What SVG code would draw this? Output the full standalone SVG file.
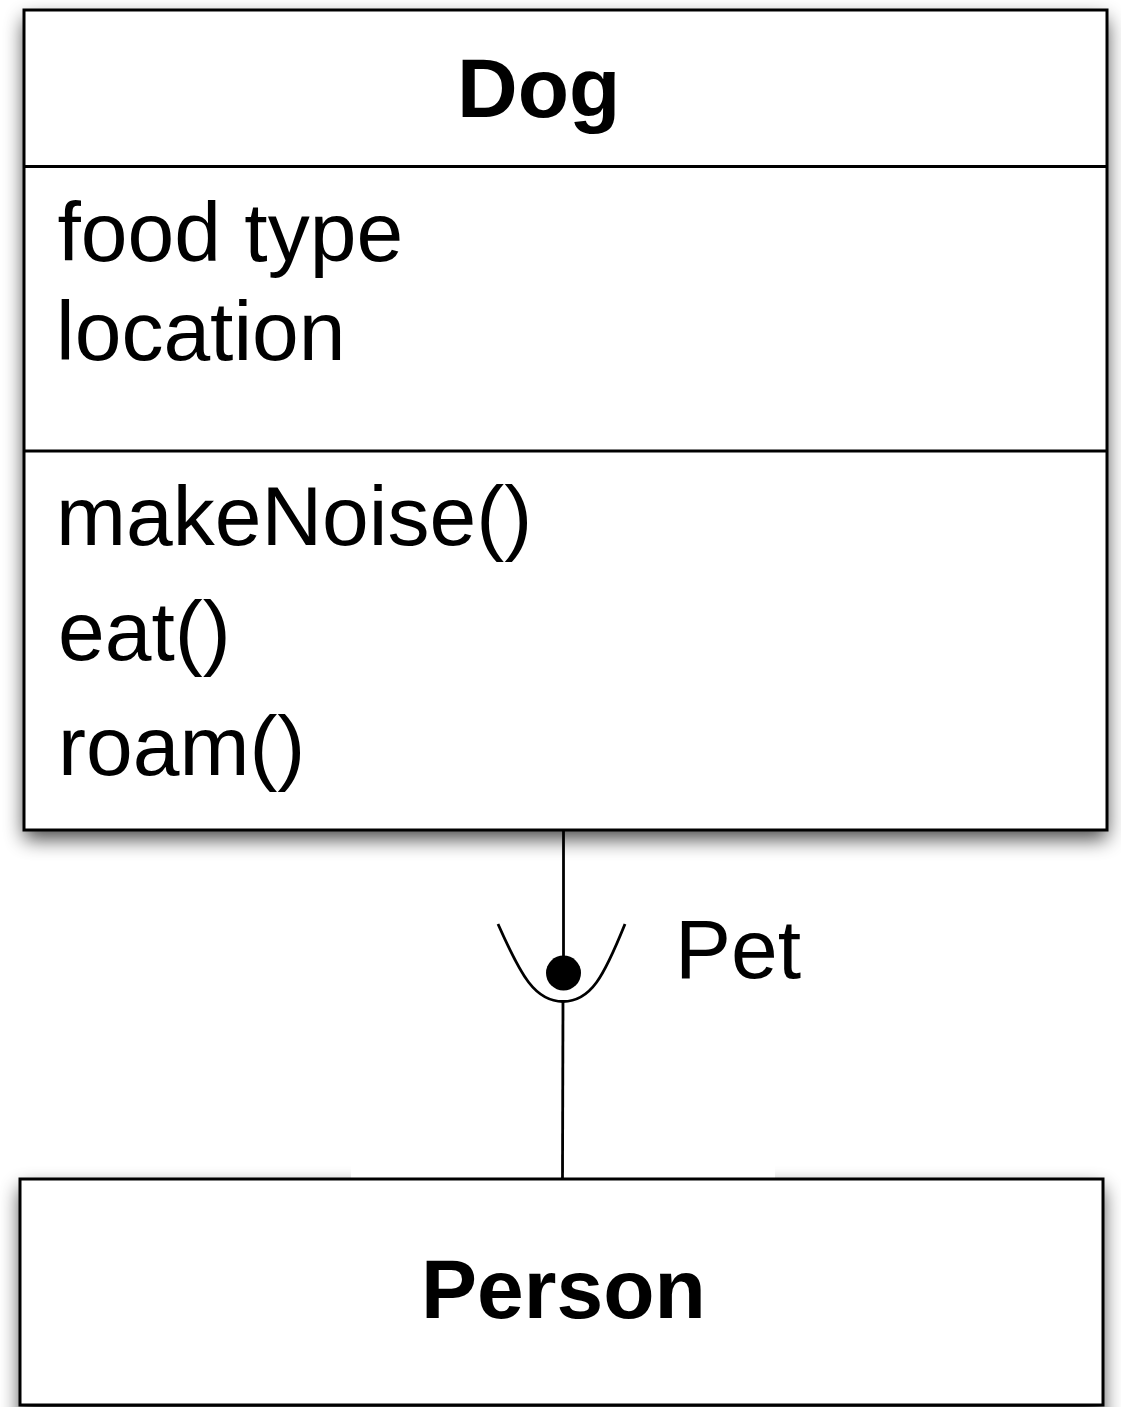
<svg xmlns="http://www.w3.org/2000/svg" width="1121" height="1407" viewBox="0 0 1121 1407">
  <style>
    .box { fill: #ffffff; stroke: #000000; stroke-width: 3; }
    .div { stroke: #000000; stroke-width: 3; fill: none; }
    .shadow { fill: #000000; opacity: 0.72; }
    .title { font-family: "Liberation Sans", Arial, sans-serif; font-weight: bold; font-size: 84px; fill: #000; }
    .item { font-family: "Liberation Sans", Arial, sans-serif; font-size: 84px; fill: #000; }
    .conn { stroke: #000000; stroke-width: 2.8; fill: none; }
  </style>
  <defs>
    <filter id="blur" x="-10%" y="-10%" width="120%" height="130%">
      <feGaussianBlur stdDeviation="10"/>
    </filter>
  </defs>
  <rect width="1121" height="1407" fill="#ffffff"/>

  <g id="person">
    <rect class="shadow" x="20" y="1188" width="1083" height="240" filter="url(#blur)"/>
    <rect x="351" y="1140" width="424" height="38" fill="#ffffff"/>
    <rect class="box" x="20" y="1179" width="1083" height="226"/>
    <text class="title" x="421" y="1318">Person</text>
  </g>

  <g id="dog">
    <rect class="shadow" x="24" y="19" width="1083" height="820" filter="url(#blur)"/>
    <rect class="box" x="24" y="10" width="1083" height="820"/>
    <line class="div" x1="24" y1="166.5" x2="1107" y2="166.5"/>
    <line class="div" x1="24" y1="451" x2="1107" y2="451"/>
    <text class="title" x="457" y="117">Dog</text>
    <text class="item" x="57.5" y="261">food type</text>
    <text class="item" x="56" y="360">location</text>
    <text class="item" x="56" y="545">makeNoise()</text>
    <text class="item" x="58" y="660">eat()</text>
    <text class="item" x="58" y="775">roam()</text>
  </g>

  <g id="connectors">
    <line class="conn" x1="563.5" y1="831" x2="563.5" y2="972"/>
    <circle cx="563.5" cy="973" r="17.5" fill="#000000"/>
    <path class="conn" stroke-width="3.3" d="M498,924 C521,976 535,1001.5 563,1001.5 C591,1001.5 604,976 625,924"/>
    <line class="conn" x1="563" y1="1001" x2="562.5" y2="1179"/>
    <text class="item" x="675" y="978">Pet</text>
  </g>
</svg>
